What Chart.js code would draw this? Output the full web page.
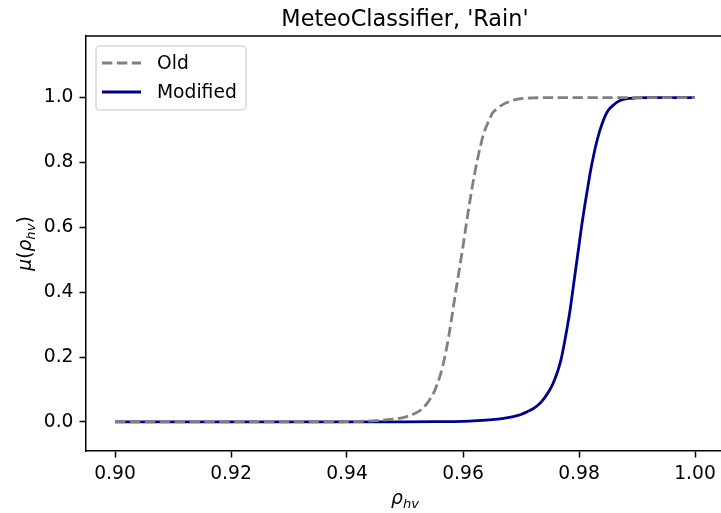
<!DOCTYPE html>
<html>
<head>
<meta charset="utf-8">
<script src="https://cdn.jsdelivr.net/npm/chart.js@4.4.1/dist/chart.umd.min.js"></script>
<style>
html,body{margin:0;padding:0;overflow:hidden;background:#fff;}
canvas{display:block;}
</style>
</head>
<body>
<canvas id="c" width="740" height="513"></canvas>
<script>
const title = "MeteoClassifier, 'Rain'";
const seriesNames = ["Old", "Modified"];

const oldX = [0.900, 0.920, 0.930, 0.940, 0.945, 0.947, 0.949, 0.950, 0.951, 0.952, 0.953, 0.954, 0.955, 0.9555, 0.956, 0.9565, 0.957, 0.9575, 0.958, 0.9585, 0.959, 0.9595, 0.960, 0.9605, 0.961, 0.9615, 0.962, 0.9625, 0.963, 0.9635, 0.964, 0.9645, 0.965, 0.966, 0.967, 0.968, 0.969, 0.970, 0.972, 0.975, 0.985, 1.000];
const oldY = [0.000, 0.000, 0.000, 0.001, 0.004, 0.007, 0.011, 0.015, 0.021, 0.029, 0.041, 0.062, 0.092, 0.114, 0.140, 0.172, 0.212, 0.260, 0.315, 0.373, 0.430, 0.485, 0.542, 0.602, 0.660, 0.715, 0.765, 0.810, 0.850, 0.885, 0.910, 0.930, 0.950, 0.968, 0.980, 0.988, 0.994, 0.997, 0.999, 1.000, 1.000, 1.000];

const modX = [0.900, 0.920, 0.940, 0.950, 0.955, 0.960, 0.9625, 0.965, 0.967, 0.968, 0.969, 0.970, 0.971, 0.972, 0.973, 0.974, 0.975, 0.9755, 0.976, 0.9765, 0.977, 0.9775, 0.978, 0.9785, 0.979, 0.9795, 0.980, 0.9805, 0.981, 0.9815, 0.982, 0.9825, 0.983, 0.9835, 0.984, 0.9845, 0.985, 0.986, 0.987, 0.988, 0.990, 0.992, 0.996, 1.000];
const modY = [0.000, 0.000, 0.000, 0.0005, 0.001, 0.002, 0.004, 0.007, 0.011, 0.014, 0.018, 0.023, 0.031, 0.040, 0.053, 0.073, 0.100, 0.118, 0.140, 0.166, 0.200, 0.245, 0.295, 0.350, 0.415, 0.480, 0.545, 0.610, 0.668, 0.722, 0.775, 0.820, 0.860, 0.893, 0.920, 0.943, 0.960, 0.978, 0.990, 0.996, 0.999, 1.000, 1.000, 1.000];

const xTicks = [0.90, 0.92, 0.94, 0.96, 0.98, 1.00];
const yTicks = [0.0, 0.2, 0.4, 0.6, 0.8, 1.0];

const FONT = "'DejaVu Sans', sans-serif";
const FS = 18.7;

function pts(xs, ys){ return xs.map((x,i)=>({x:x, y:ys[i]})); }

const decor = {
  id: 'decor',
  afterDraw(chart){
    const ctx = chart.ctx, a = chart.chartArea;
    ctx.save();
    ctx.strokeStyle = '#000'; ctx.lineWidth = 1.5;
    ctx.beginPath(); ctx.moveTo(a.left - 0.75, a.top); ctx.lineTo(a.right, a.top); ctx.stroke();
    ctx.beginPath(); ctx.moveTo(a.right, a.top); ctx.lineTo(a.right, a.bottom); ctx.stroke();
    const cx = (a.left + a.right)/2;
    ctx.fillStyle = '#000';
    ctx.font = "22.4px " + FONT;
    ctx.textAlign = 'center'; ctx.textBaseline = 'alphabetic';
    ctx.fillText(title, cx, 26);
    function rhoHv(y, size){
      ctx.font = "italic " + size + "px " + FONT;
      const w1 = ctx.measureText("ρ").width;
      ctx.font = "italic " + (size*0.7) + "px " + FONT;
      const w2 = ctx.measureText("hv").width;
      return {w: w1 + w2, draw(x0){
        ctx.font = "italic " + size + "px " + FONT;
        ctx.textAlign = 'left';
        ctx.fillText("ρ", x0, y);
        ctx.font = "italic " + (size*0.7) + "px " + FONT;
        ctx.fillText("hv", x0 + w1, y + size*0.22);
      }};
    }
    const lab = rhoHv(504, FS);
    lab.draw(cx - lab.w/2);
    ctx.save();
    ctx.translate(31, (a.top + a.bottom)/2);
    ctx.rotate(-Math.PI/2);
    const s = FS;
    ctx.font = "italic " + s + "px " + FONT;
    const wMu = ctx.measureText("μ").width;
    ctx.font = s + "px " + FONT;
    const wP = ctx.measureText("(").width;
    const lab2 = rhoHv(0, s);
    const total = wMu + wP + lab2.w + wP;
    let x0 = -total/2;
    ctx.font = "italic " + s + "px " + FONT; ctx.textAlign='left';
    ctx.fillText("μ", x0, 0); x0 += wMu;
    ctx.font = s + "px " + FONT;
    ctx.fillText("(", x0, 0); x0 += wP;
    lab2.draw(x0); x0 += lab2.w;
    ctx.font = s + "px " + FONT;
    ctx.fillText(")", x0, 0);
    ctx.restore();
    const lx = 96, ly = 46, lw = 150, lh = 64, r = 4;
    ctx.globalAlpha = 0.8;
    ctx.fillStyle = '#fff';
    ctx.strokeStyle = '#cccccc'; ctx.lineWidth = 1.5;
    ctx.beginPath();
    ctx.roundRect(lx, ly, lw, lh, r);
    ctx.fill(); ctx.stroke();
    ctx.globalAlpha = 1;
    const ds = chart.data.datasets;
    const rows = [63, 92];
    ds.forEach((d, i) => {
      ctx.strokeStyle = d.borderColor; ctx.lineWidth = d.borderWidth;
      ctx.setLineDash(d.borderDash || []);
      ctx.beginPath(); ctx.moveTo(102, rows[i]); ctx.lineTo(141, rows[i]); ctx.stroke();
      ctx.setLineDash([]);
      ctx.fillStyle = '#000';
      ctx.font = FS + "px " + FONT; ctx.textAlign='left'; ctx.textBaseline='middle';
      ctx.fillText(d.label, 157, rows[i] + 1);
    });
    ctx.restore();
  }
};

new Chart(document.getElementById('c'), {
  type: 'line',
  data: {
    datasets: [
      { label: seriesNames[0], data: pts(oldX, oldY), borderColor: '#808080', borderWidth: 2.8, borderDash: [10.4, 4.5], pointRadius: 0, cubicInterpolationMode: 'monotone', fill: false },
      { label: seriesNames[1], data: pts(modX, modY), borderColor: '#00008b', borderWidth: 2.8, pointRadius: 0, cubicInterpolationMode: 'monotone', fill: false }
    ]
  },
  options: {
    responsive: false,
    animation: false,
    layout: { padding: { top: 36, right: 16, left: 0, bottom: 0 } },
    plugins: { legend: { display: false }, title: { display: false }, tooltip: { enabled: false } },
    scales: {
      x: {
        type: 'linear', min: 0.895, max: 1.005,
        afterBuildTicks: s => { s.ticks = xTicks.map(v => ({ value: v })); },
        afterFit: s => { s.height = 62; },
        grid: { display: true, drawOnChartArea: false, drawTicks: true, tickLength: 6.5, tickWidth: 1.5, tickColor: '#000' },
        border: { display: true, color: '#000', width: 1.5 },
        ticks: { color: '#000', font: { family: FONT, size: FS }, padding: 5, maxRotation: 0, autoSkip: false, callback: v => v.toFixed(2) }
      },
      y: {
        type: 'linear', min: -0.0895, max: 1.19,
        afterBuildTicks: s => { s.ticks = yTicks.map(v => ({ value: v })); },
        afterFit: s => { s.width = 86; },
        grid: { display: true, drawOnChartArea: false, drawTicks: true, tickLength: 6.5, tickWidth: 1.5, tickColor: '#000' },
        border: { display: true, color: '#000', width: 1.5 },
        ticks: { color: '#000', font: { family: FONT, size: FS }, padding: 6, autoSkip: false, callback: v => v.toFixed(1) }
      }
    }
  },
  plugins: [decor]
});
</script>
</body>
</html>
